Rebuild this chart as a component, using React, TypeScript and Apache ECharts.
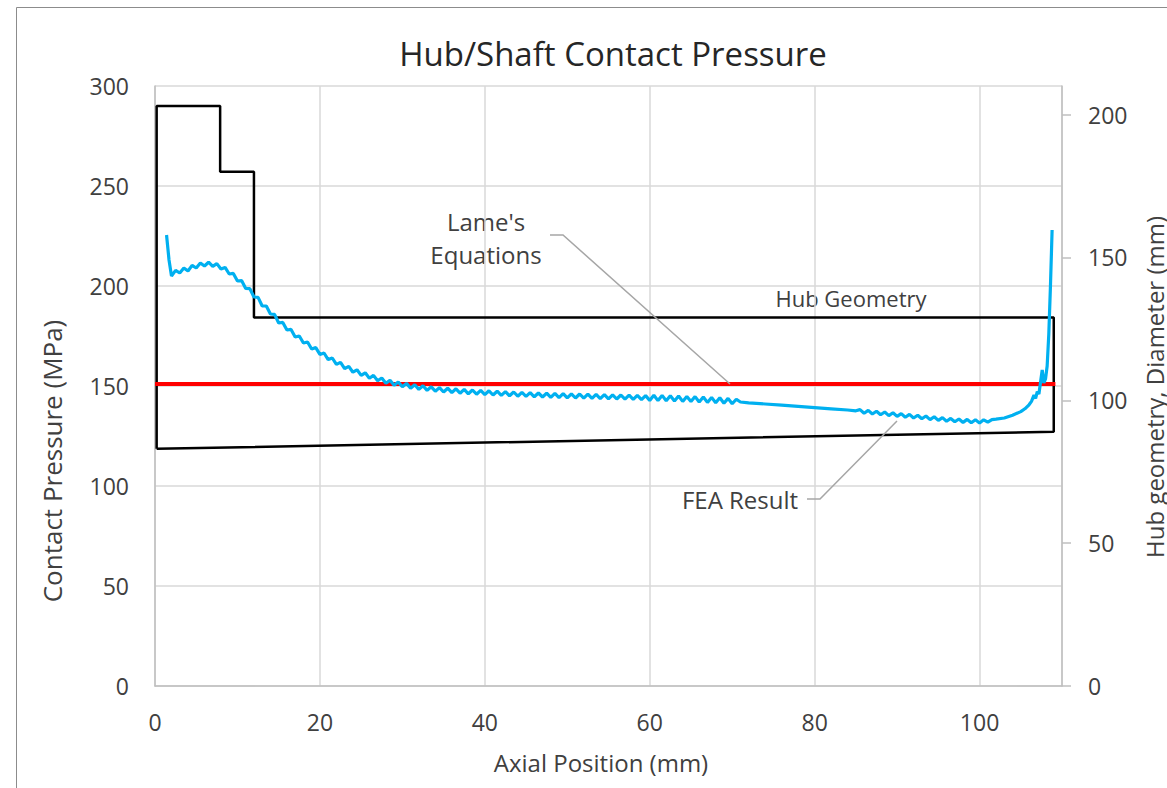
import React, { useEffect, useRef } from "react";
import * as echarts from "echarts";

// Hub cross-section outline (axial position mm, diameter mm)
const HUB_X = [0.2, 0.2, 7.9, 7.9, 12.0, 12.0, 109.0, 109.0, 0.2];
const HUB_D = [83, 203, 203, 180, 180, 129, 129, 89, 83];

// Lame's equations result (MPa)
const LAME_X = [0, 109.2];
const LAME_P = [151, 151];

// FEA contact pressure (axial position mm, MPa)
const FEA_X = [
  1.4, 1.7, 2.0, 2.5, 3.0, 3.5, 4.0, 4.5, 5.0, 5.5, 6.0, 6.5, 7.0, 7.5, 8.0, 8.5, 9.0, 9.5, 10.0, 10.5,
  11.0, 11.5, 12.0, 12.5, 13.0, 13.5, 14.0, 14.5, 15.0, 15.5, 16.0, 16.5, 17.0, 17.5, 18.0, 18.5, 19.0, 19.5, 20.0, 20.5,
  21.0, 21.5, 22.0, 22.5, 23.0, 23.5, 24.0, 24.5, 25.0, 25.5, 26.0, 26.5, 27.0, 27.5, 28.0, 28.5, 29.0, 29.5, 30.0, 30.5,
  31.0, 31.5, 32.0, 32.5, 33.0, 33.5, 34.0, 34.5, 35.0, 35.5, 36.0, 36.5, 37.0, 37.5, 38.0, 38.5, 39.0, 39.5, 40.0, 40.5,
  41.0, 41.5, 42.0, 42.5, 43.0, 43.5, 44.0, 44.5, 45.0, 45.5, 46.0, 46.5, 47.0, 47.5, 48.0, 48.5, 49.0, 49.5, 50.0, 50.5,
  51.0, 51.5, 52.0, 52.5, 53.0, 53.5, 54.0, 54.5, 55.0, 55.5, 56.0, 56.5, 57.0, 57.5, 58.0, 58.5, 59.0, 59.5, 60.0, 60.5,
  61.0, 61.5, 62.0, 62.5, 63.0, 63.5, 64.0, 64.5, 65.0, 65.5, 66.0, 66.5, 67.0, 67.5, 68.0, 68.5, 69.0, 69.5, 70.0, 70.5,
  71.0, 72.0, 74.0, 76.0, 78.0, 80.0, 82.0, 84.0, 85.0, 85.5,
  86.0, 86.5, 87.0, 87.5, 88.0, 88.5, 89.0, 89.5, 90.0, 90.5, 91.0, 91.5, 92.0, 92.5, 93.0, 93.5, 94.0, 94.5, 95.0, 95.5,
  96.0, 96.5, 97.0, 97.5, 98.0, 98.5, 99.0, 99.5, 100.0, 100.5, 101.0, 101.5, 102.0, 103.0, 104.0, 105.0, 105.5, 106.0,
  106.3, 106.6, 106.8, 107.0, 107.2, 107.4, 107.6, 107.8, 108.0, 108.2, 108.4, 108.6, 108.8,
];
const FEA_P = [
  225.5, 213.0, 205.0, 207.8, 206.5, 209.0, 207.5, 210.3, 209.0, 211.5, 210.0, 211.9, 209.8, 211.2, 208.5, 209.3, 206.0, 206.3, 202.5, 202.7,
  198.8, 198.7, 194.5, 194.3, 190.0, 190.0, 186.0, 185.8, 181.5, 181.8, 178.0, 178.3, 174.5, 175.0, 171.5, 172.0, 168.5, 169.2, 165.8, 166.5,
  163.2, 164.0, 160.8, 161.8, 158.7, 159.8, 156.9, 158.1, 155.3, 156.6, 153.9, 155.3, 152.6, 154.0, 151.4, 152.9, 150.4, 152.0, 149.6, 151.3,
  148.9, 150.6, 148.3, 150.1, 147.8, 149.6, 147.4, 149.2, 147.0, 148.9, 146.7, 148.6, 146.4, 148.3, 146.1, 148.0, 145.9, 147.8, 145.7, 147.6,
  145.5, 147.4, 145.3, 147.2, 145.1, 147.0, 144.9, 146.8, 144.8, 146.7, 144.6, 146.5, 144.5, 146.4, 144.3, 146.3, 144.2, 146.2, 144.1, 146.1,
  144.0, 146.0, 143.9, 145.9, 143.8, 145.8, 143.7, 145.7, 143.6, 145.6, 143.5, 145.5, 143.4, 145.4, 143.3, 145.3, 143.2, 145.2, 142.8, 145.4,
  142.7, 145.3, 142.6, 145.1, 142.5, 145.0, 142.3, 144.8, 142.2, 144.7, 142.0, 144.5, 141.8, 144.3, 141.6, 144.1, 141.4, 143.8, 141.1, 143.4,
  142.0, 141.6, 141.0, 140.4, 139.8, 139.2, 138.6, 138.0, 137.6, 138.2,
  136.4, 137.8, 136.0, 137.4, 135.6, 137.0, 135.2, 136.6, 134.8, 136.2, 134.4, 135.8, 134.0, 135.4, 133.6, 135.0, 133.2, 134.6, 132.8, 134.2,
  132.4, 133.8, 132.1, 133.5, 131.8, 133.3, 131.6, 133.1, 131.5, 133.1, 131.9, 133.2, 133.4, 134.0, 135.4, 137.2, 138.6, 140.6,
  142.3, 145.4, 143.8, 147.2, 146.0, 152.0, 158.0, 151.5, 153.5, 160.0, 176.0, 200.0, 228.0,
];

const TITLE = "Hub/Shaft Contact Pressure";
const X_NAME = "Axial Position (mm)";
const Y_NAME = "Contact Pressure (MPa)";
const Y2_NAME = "Hub geometry, Diameter (mm)";

const FONT = "'Open Sans', sans-serif";
const TEXT = "#404040";
const GRID = "#d9d9d9";
const AXIS = "#bfbfbf";

export default function App() {
  const ref = useRef<HTMLDivElement>(null);

  useEffect(() => {
    document.body.style.margin = "0";
    if (!ref.current) return;
    const chart = echarts.init(ref.current, null, { renderer: "svg" });

    const hub = HUB_X.map((x, i) => [x, HUB_D[i]]);
    const lame = LAME_X.map((x, i) => [x, LAME_P[i]]);
    const fea = FEA_X.map((x, i) => [x, FEA_P[i]]);

    chart.setOption({
      animation: false,
      backgroundColor: "#ffffff",
      textStyle: { fontFamily: FONT },
      grid: { left: 155, right: 105, top: 86, bottom: 102, containLabel: false },
      xAxis: {
        type: "value",
        min: 0,
        max: 110,
        interval: 20,
        axisLine: { show: true, lineStyle: { color: AXIS, width: 1.5 } },
        axisTick: { show: false },
        splitLine: { show: true, lineStyle: { color: GRID, width: 1.5 } },
        axisLabel: {
          color: TEXT,
          fontSize: 23,
          fontFamily: FONT,
          margin: 24,
          formatter: (v: number) => (v > 100 ? "" : String(v)),
        },
      },
      yAxis: [
        {
          type: "value",
          min: 0,
          max: 300,
          interval: 50,
          axisLine: { show: true, lineStyle: { color: AXIS, width: 1.5 } },
          axisTick: { show: false },
          splitLine: { show: true, lineStyle: { color: GRID, width: 1.5 } },
          axisLabel: { color: TEXT, fontSize: 23, fontFamily: FONT, margin: 26 },
        },
        {
          type: "value",
          min: 0,
          max: 210,
          interval: 50,
          position: "right",
          axisLine: { show: true, lineStyle: { color: AXIS, width: 1.5 } },
          axisTick: { show: true, length: 9, lineStyle: { color: AXIS, width: 1.5 } },
          splitLine: { show: false },
          axisLabel: {
            color: TEXT,
            fontSize: 23,
            fontFamily: FONT,
            margin: 26,
            showMaxLabel: false,
            formatter: (v: number) => (v % 50 === 0 ? String(v) : ""),
          },
        },
      ],
      series: [
        {
          name: "Hub Geometry",
          type: "line",
          yAxisIndex: 1,
          data: hub,
          showSymbol: false,
          symbol: "none",
          lineStyle: { color: "#000000", width: 2.5 },
          z: 2,
        },
        {
          name: "Lame's Equations",
          type: "line",
          yAxisIndex: 0,
          data: lame,
          showSymbol: false,
          symbol: "none",
          lineStyle: { color: "#ff0000", width: 4 },
          z: 3,
        },
        {
          name: "FEA Result",
          type: "line",
          yAxisIndex: 0,
          data: fea,
          showSymbol: false,
          symbol: "none",
          lineStyle: { color: "#00b0f0", width: 3.2 },
          z: 4,
        },
      ],
      graphic: [
        {
          type: "rect",
          shape: { x: 16.5, y: 7.5, width: 1300, height: 1000 },
          style: { fill: "none", stroke: "#8c8c8c", lineWidth: 1 },
          silent: true,
        },
        {
          type: "text",
          x: 613,
          y: 53,
          style: { text: TITLE, font: `33px ${FONT}`, fill: "#262626", align: "center", verticalAlign: "middle" },
        },
        {
          type: "text",
          x: 601,
          y: 762,
          style: { text: X_NAME, font: `24px ${FONT}`, fill: TEXT, align: "center", verticalAlign: "middle" },
        },
        {
          type: "text",
          x: 52,
          y: 461,
          rotation: Math.PI / 2,
          style: { text: Y_NAME, font: `26px ${FONT}`, fill: TEXT, align: "center", verticalAlign: "middle" },
        },
        {
          type: "text",
          x: 1154,
          y: 387,
          rotation: Math.PI / 2,
          style: { text: Y2_NAME, font: `24px ${FONT}`, fill: TEXT, align: "center", verticalAlign: "middle" },
        },
        {
          type: "text",
          x: 486,
          y: 221,
          style: { text: "Lame's", font: `24px ${FONT}`, fill: TEXT, align: "center", verticalAlign: "middle" },
        },
        {
          type: "text",
          x: 486,
          y: 254,
          style: { text: "Equations", font: `24px ${FONT}`, fill: TEXT, align: "center", verticalAlign: "middle" },
        },
        {
          type: "text",
          x: 851,
          y: 298,
          style: { text: "Hub Geometry", font: `22px ${FONT}`, fill: TEXT, align: "center", verticalAlign: "middle" },
        },
        {
          type: "text",
          x: 740,
          y: 499,
          style: { text: "FEA Result", font: `24px ${FONT}`, fill: TEXT, align: "center", verticalAlign: "middle" },
        },
        {
          type: "polyline",
          shape: { points: [[550, 235], [563, 235], [730, 384]] },
          style: { stroke: "#a6a6a6", lineWidth: 1.5, fill: "none" },
          z: 10,
        },
        {
          type: "polyline",
          shape: { points: [[807, 499], [820, 499], [897, 421]] },
          style: { stroke: "#a6a6a6", lineWidth: 1.5, fill: "none" },
          z: 10,
        },
      ],
    });

    return () => chart.dispose();
  }, []);

  return (
    <div
      ref={ref}
      style={{ position: "absolute", left: 0, top: 0, width: 1167, height: 788 }}
    />
  );
}
